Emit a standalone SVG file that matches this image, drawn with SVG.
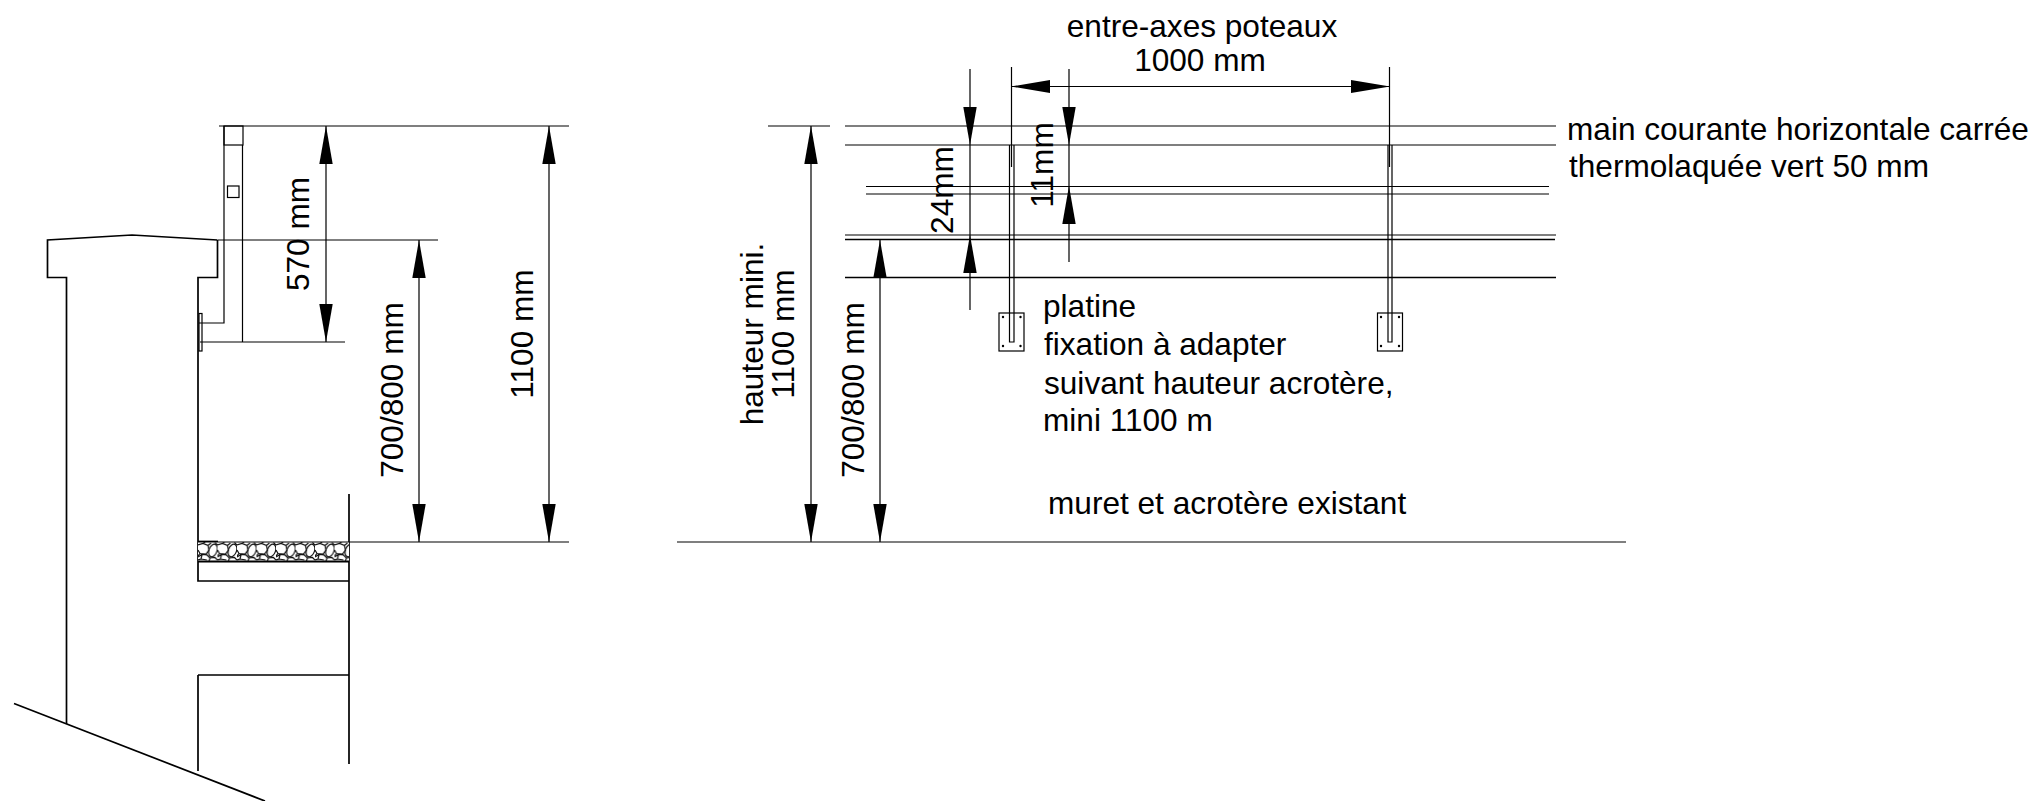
<svg xmlns="http://www.w3.org/2000/svg" width="2036" height="801" viewBox="0 0 2036 801">
<style>
.l{fill:none;stroke:#000;stroke-width:1.2}
.t{fill:none;stroke:#000;stroke-width:1.7}
.h{fill:#000;stroke:none}
text{font-family:"Liberation Sans",Arial,sans-serif;font-size:31.600px;fill:#000}
.d{fill:#000}
</style>
<defs>
<path id="au" class="h" d="M0 0L6.700 38H-6.700Z"/>
<path id="ad" class="h" d="M0 0L-6.700 -38H6.700Z"/>
<pattern id="gr" x="198" y="542" width="19.500" height="20" patternUnits="userSpaceOnUse">
<rect width="19.500" height="20" fill="#fff"/>
<ellipse cx="15" cy="8.500" rx="4" ry="6.500" transform="rotate(20 15 8.500)" fill="#fff" stroke="#111" stroke-width="1.200"/>
<path d="M0 3L5 1.500L10 3.500L11 8L8 12L2 11.500L0 8M0 15L4 12.500L9 13L12 16L11 19M12 16L17 15.500L19.500 18M2 11.500L0 14M4 12.500L3 17L0 18M3 17L9 18M5 1.500L7 0M10 3.500L13 1M17 0.500L19.500 3M8 12L9 13" fill="none" stroke="#111" stroke-width="1.200"/>
</pattern>
</defs>
<g id="wall-section">
<path class="t" d="M217.500 240L132 235L47.500 240V277.500H66.500V724"/>
<path class="t" d="M217.500 240V277.500H198V581H349M198 675H349M198 771V675M349 494V764"/>
<path class="t" d="M14 703.500L265 801"/>
<path class="t" d="M198 541.500H218"/>
</g>
<g id="gravel">
<rect x="198" y="542" width="151" height="19.500" fill="url(#gr)" stroke="none"/>
<path class="l" d="M198 542H349"/>
<path stroke="#000" stroke-width="2" fill="none" d="M198 561.500H349"/>
</g>
<g id="section-railing">
<rect class="l" x="224" y="126" width="19" height="19"/>
<rect class="l" x="227.500" y="186" width="11.500" height="11.500"/>
<path class="l" d="M224 126V323H199M242.500 145V342"/>
<rect class="l" x="199" y="313.500" width="3" height="37.500"/>
</g>
<g id="elevation-rails">
<path class="l" d="M845 126H1556M845 145H1556M866 186.500H1549M866 194H1549M845 235H1556"/>
<path class="t" d="M845 239.500H1555M845 277.500H1556"/>
</g>
<g id="post-1">
<path class="l" fill="#fff" d="M1009.500 145V342H1014V145"/>
<rect class="l" x="999" y="313" width="25" height="38"/>
<g class="d"><circle cx="1003" cy="317" r="1.200"/><circle cx="1020.500" cy="317" r="1.200"/><circle cx="1003" cy="346" r="1.200"/><circle cx="1020.500" cy="346" r="1.200"/></g>
</g>
<g id="post-2">
<path class="l" fill="#fff" d="M1388 145V342H1392V145"/>
<rect class="l" x="1377.500" y="313" width="25" height="38"/>
<g class="d"><circle cx="1381" cy="317" r="1.200"/><circle cx="1399" cy="317" r="1.200"/><circle cx="1381" cy="346" r="1.200"/><circle cx="1399" cy="346" r="1.200"/></g>
</g>
<g id="connectors">
<path class="l" d="M219 126H569M218 240H438M200 342H345M349 542H569"/>
<path class="l" d="M326 126V342M419 240V542M549 126V542"/>
<use href="#au" x="326" y="126"/><use href="#ad" x="326" y="342"/>
<use href="#au" x="419" y="240"/><use href="#ad" x="419" y="542"/>
<use href="#au" x="549" y="126"/><use href="#ad" x="549" y="542"/>
<path class="l" d="M768 126H830M677 542H1626M811 126V542M880 240V542"/>
<use href="#au" x="811" y="126"/><use href="#ad" x="811" y="542"/>
<use href="#au" x="880" y="240"/><use href="#ad" x="880" y="542"/>
<path class="l" d="M1011.500 67V167M1389.500 67V167M1011 86.500H1390"/>
<path class="h" d="M1011 86.500L1050 80V93ZM1390 86.500L1351 80V93Z"/>
<path class="l" d="M970 69V310M1069 69V262"/>
<use href="#ad" x="970" y="145"/><use href="#au" x="970" y="235"/>
<use href="#ad" x="1069" y="145"/><use href="#au" x="1069" y="186"/>
</g>
<g id="labels">
<text x="1202" y="37" text-anchor="middle">entre-axes poteaux</text>
<text x="1200" y="71" text-anchor="middle">1000 mm</text>
<text x="1567" y="140">main courante horizontale carrée</text>
<text x="1569" y="177">thermolaquée vert 50 mm</text>
<text x="1043" y="317">platine</text>
<text x="1044" y="355">fixation à adapter</text>
<text x="1044" y="394">suivant hauteur acrotère,</text>
<text x="1043" y="431">mini 1100 m</text>
<text x="1048" y="514">muret et acrotère existant</text>
<text transform="translate(309 234) rotate(-90)" text-anchor="middle">570 mm</text>
<text transform="translate(403 390) rotate(-90)" text-anchor="middle">700/800 mm</text>
<text transform="translate(533 334) rotate(-90)" text-anchor="middle">1100 mm</text>
<text transform="translate(763 334) rotate(-90)" text-anchor="middle">hauteur mini.</text>
<text transform="translate(794 334) rotate(-90)" text-anchor="middle">1100 mm</text>
<text transform="translate(864 390) rotate(-90)" text-anchor="middle">700/800 mm</text>
<text transform="translate(953 190) rotate(-90)" text-anchor="middle">24mm</text>
<text transform="translate(1053 165) rotate(-90)" text-anchor="middle">11mm</text>
</g>
</svg>
